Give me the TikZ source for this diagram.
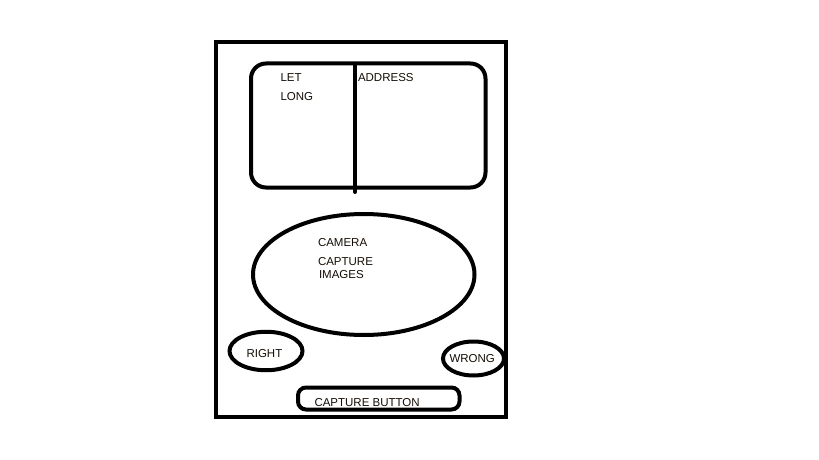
\documentclass[tikz,border=0pt]{standalone}
\usepackage{fontspec}
\setmainfont{Liberation Sans}
\usetikzlibrary{shapes.geometric}
\definecolor{inkcol}{RGB}{20,12,4}

\begin{document}
\begin{tikzpicture}[x=1pt, y=-1pt, line width=4pt,
	lbl/.style={inner sep=0pt, anchor=west, text=inkcol, font=\fontsize{11.5}{13}\selectfont},
	blob/.style={draw, ellipse, inner sep=0pt, text=inkcol, font=\fontsize{11.5}{13}\selectfont},
	panel/.style={draw, rectangle, inner sep=0pt}]
	\useasboundingbox (0,0) rectangle (819,460);
	% phone outline and location panel
	\node[panel, minimum width=290pt, minimum height=375pt] (phone) at (360.5,229.5) {};
	\node[panel, rounded corners=15pt, minimum width=234.5pt, minimum height=124pt] (info) at (368.25,125.5) {};
	\coordinate (divtop) at (355,64);
	\coordinate (divbot) at (355,192);
	\draw[line cap=round] (divtop) -- (divbot);
	\node[lbl] (let) at (278.5,78) {LET};
	\node[lbl] (long) at (278.5,97) {LONG};
	\node[lbl] (addr) at (356,78) {ADDRESS};

	% camera area
	\node[blob, minimum width=221.5pt, minimum height=121pt] (cam) at (363.75,274.5) {};
	\node[lbl] (camera) at (316,243) {CAMERA};
	\node[lbl] (capture) at (316,261.5) {CAPTURE};
	\node[lbl] (images) at (317,275) {IMAGES};

	% buttons
	\node[blob, minimum width=73pt, minimum height=38.5pt] (right) at (266,351) {};
	\node[lbl] (righttext) at (244.5,353.5) {RIGHT};
	\node[blob, minimum width=61pt, minimum height=34pt] (wrong) at (473.5,358.5) {};
	\node[lbl] (wrongtext) at (447.5,358.5) {WRONG};
	\node[panel, rounded corners=8pt, minimum width=161.5pt, minimum height=22pt] (btn) at (378.75,398.5) {};
	\node[lbl] (btntext) at (312.5,402.5) {CAPTURE BUTTON};
\end{tikzpicture}
\end{document}
